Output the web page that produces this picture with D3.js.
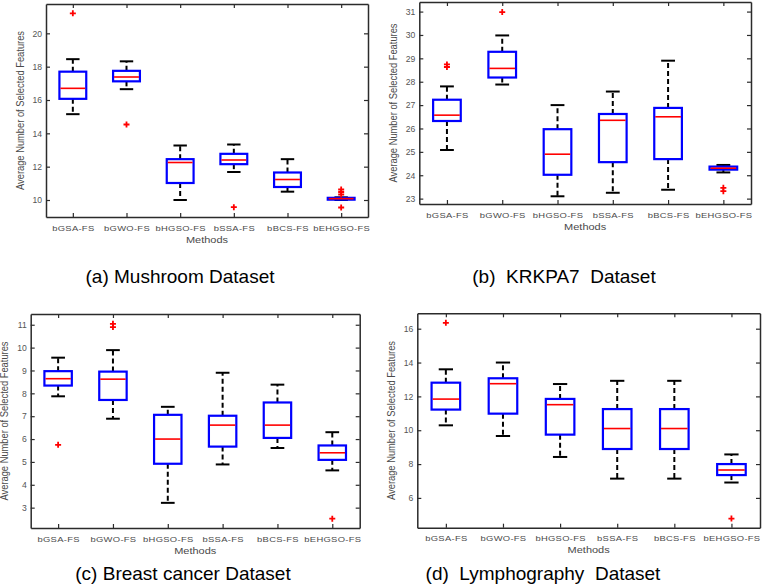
<!DOCTYPE html>
<html>
<head>
<meta charset="utf-8">
<script src="https://cdn.jsdelivr.net/npm/d3@7"></script>
<style>
  html, body { margin: 0; padding: 0; background: #fff; }
  svg { display: block; font-family: "Liberation Sans", Arial, Helvetica, sans-serif; }
</style>
</head>
<body>
<svg id="chart" width="762" height="584"></svg>
<script>
// ---------- DATA ----------
const categories = ["bGSA-FS", "bGWO-FS", "bHGSO-FS", "bSSA-FS", "bBCS-FS", "bEHGSO-FS"];

// each entry: [lower whisker, Q1, median, Q3, upper whisker]
const mushroomStats = [
  [15.15, 16.07, 16.7, 17.7, 18.45],
  [16.65, 17.12, 17.38, 17.75, 18.32],
  [10.0, 11.02, 12.25, 12.45, 13.27],
  [11.68, 12.15, 12.4, 12.77, 13.33],
  [10.5, 10.78, 11.23, 11.65, 12.45],
  [10.0, 10.02, 10.08, 10.13, 10.16]
];
const mushroomOutliers = [[21.2], [14.53], [], [9.57], [], [10.63, 10.48, 10.33, 9.55]];

const krkpa7Stats = [
  [25.08, 26.32, 26.57, 27.23, 27.8],
  [27.88, 28.18, 28.57, 29.28, 29.98],
  [23.1, 24.02, 24.9, 25.97, 27.0],
  [23.25, 24.56, 26.35, 26.62, 27.58],
  [23.38, 24.69, 26.5, 26.88, 28.9],
  [24.12, 24.24, 24.3, 24.37, 24.44]
];
const krkpa7Outliers = [[28.74, 28.63], [30.98], [], [], [], [23.46, 23.32]];

const breastStats = [
  [7.87, 8.34, 8.64, 8.97, 9.56],
  [6.89, 7.71, 8.62, 8.95, 9.89],
  [3.21, 4.92, 6.0, 7.06, 7.41],
  [4.89, 5.67, 6.61, 7.02, 8.9],
  [5.61, 6.05, 6.61, 7.6, 8.38],
  [4.63, 5.09, 5.4, 5.72, 6.3]
];
const breastOutliers = [[5.75], [11.04, 10.9], [], [], [], [2.52]];

const lymphStats = [
  [10.29, 11.22, 11.84, 12.81, 13.6],
  [9.66, 10.98, 12.75, 13.07, 14.0],
  [8.42, 9.74, 11.51, 11.85, 12.73],
  [7.14, 8.89, 10.1, 11.25, 12.92],
  [7.14, 8.89, 10.1, 11.25, 12.92],
  [6.91, 7.35, 7.65, 8.0, 8.57]
];
const lymphOutliers = [[16.35], [], [], [], [], [4.78]];

const mushroomTicks = [10, 12, 14, 16, 18, 20];
const krkpa7Ticks = [23, 24, 25, 26, 27, 28, 29, 30, 31];
const breastTicks = [3, 4, 5, 6, 7, 8, 9, 10, 11];
const lymphTicks = [6, 8, 10, 12, 14, 16];

const mushroomDomain = [8.98, 21.76];
const krkpa7Domain = [22.77, 31.41];
const breastDomain = [2.11, 11.47];
const lymphDomain = [4.24, 16.91];

const titles = ["(a) Mushroom Dataset", "(b)  KRKPA7  Dataset", "(c) Breast cancer Dataset", "(d)  Lymphography  Dataset"];
const xLabel = "Methods";
const yLabel = "Average Number of Selected Features";

// ---------- LAYOUT ----------
const panels = [
  { stats: mushroomStats, outliers: mushroomOutliers, ticks: mushroomTicks, domain: mushroomDomain, title: titles[0],
    left: 46, right: 368, top: 4, bottom: 217, titleX: 180, titleY: 283 },
  { stats: krkpa7Stats, outliers: krkpa7Outliers, ticks: krkpa7Ticks, domain: krkpa7Domain, title: titles[1],
    left: 419.3, right: 751, top: 2, bottom: 204, titleX: 564, titleY: 283 },
  { stats: breastStats, outliers: breastOutliers, ticks: breastTicks, domain: breastDomain, title: titles[2],
    left: 30.7, right: 359.7, top: 314, bottom: 528, titleX: 183, titleY: 579.5 },
  { stats: lymphStats, outliers: lymphOutliers, ticks: lymphTicks, domain: lymphDomain, title: titles[3],
    left: 417.3, right: 760, top: 313.3, bottom: 527.7, titleX: 543, titleY: 579.5 }
];

const svg = d3.select("#chart");
const axisColor = "#2b2b2b";
const labelColor = "#4a4a4a";

function drawPanel(p) {
  const g = svg.append("g");
  const x = d3.scalePoint().domain(categories).range([p.left, p.right]).padding(0.5);
  const y = d3.scaleLinear().domain(p.domain).range([p.bottom, p.top]);
  const bw = x.step() * 0.5;

  const styleAxis = sel => {
    sel.selectAll(".domain").attr("stroke", axisColor).attr("stroke-width", 1.5);
    sel.selectAll(".tick line").attr("stroke", axisColor).attr("stroke-width", 1.2);
  };
  const gl = g.append("g").attr("transform", `translate(${p.left},0)`)
    .call(d3.axisLeft(y).tickValues(p.ticks).tickSizeInner(-4).tickSizeOuter(0).tickPadding(4));
  styleAxis(gl);
  gl.selectAll(".tick text").attr("font-size", 8.6).attr("fill", "#555")
    .attr("font-family", "Liberation Sans, Arial, sans-serif");

  const gr = g.append("g").attr("transform", `translate(${p.right},0)`)
    .call(d3.axisRight(y).tickValues(p.ticks).tickSizeInner(-4).tickSizeOuter(0).tickFormat(""));
  styleAxis(gr);

  const gb = g.append("g").attr("transform", `translate(0,${p.bottom})`)
    .call(d3.axisBottom(x).tickSizeInner(-4).tickSizeOuter(0).tickPadding(0));
  styleAxis(gb);
  gb.selectAll(".tick text")
    .attr("font-size", 9.4).attr("fill", labelColor).attr("letter-spacing", 0.3)
    .attr("font-family", "Liberation Sans, Arial, sans-serif")
    .attr("dy", null).attr("y", 0)
    .attr("transform", "translate(0,13.5) scale(1,0.8)");

  const gt = g.append("g").attr("transform", `translate(0,${p.top})`)
    .call(d3.axisTop(x).tickSizeInner(-4).tickSizeOuter(0).tickFormat(""));
  styleAxis(gt);

  const cx = (p.left + p.right) / 2, cy = (p.top + p.bottom) / 2;
  g.append("text").text(xLabel)
    .attr("text-anchor", "middle").attr("fill", labelColor).attr("font-size", 11)
    .attr("transform", `translate(${cx},${p.bottom + 25.5}) scale(1,0.85)`);
  g.append("text").text(yLabel)
    .attr("text-anchor", "middle").attr("fill", labelColor).attr("font-size", 11)
    .attr("transform", `translate(${p.left - 22.5},${cy}) rotate(-90) scale(0.85,1)`);

  const boxes = g.selectAll(".bx").data(p.stats).join("g").attr("class", "bx")
    .attr("transform", (d, i) => `translate(${x(categories[i])},0)`);

  boxes.append("line").attr("x1", 0).attr("x2", 0)
    .attr("y1", d => y(d[3])).attr("y2", d => y(d[4]))
    .attr("stroke", "#000").attr("stroke-width", 2).attr("stroke-dasharray", "5,3");
  boxes.append("line").attr("x1", 0).attr("x2", 0)
    .attr("y1", d => y(d[1])).attr("y2", d => y(d[0]))
    .attr("stroke", "#000").attr("stroke-width", 2).attr("stroke-dasharray", "5,3");
  boxes.append("line").attr("x1", -bw / 4).attr("x2", bw / 4)
    .attr("y1", d => y(d[4])).attr("y2", d => y(d[4]))
    .attr("stroke", "#000").attr("stroke-width", 2);
  boxes.append("line").attr("x1", -bw / 4).attr("x2", bw / 4)
    .attr("y1", d => y(d[0])).attr("y2", d => y(d[0]))
    .attr("stroke", "#000").attr("stroke-width", 2);
  boxes.append("rect").attr("x", -bw / 2).attr("width", bw)
    .attr("y", d => y(d[3])).attr("height", d => Math.max(0.5, y(d[1]) - y(d[3])))
    .attr("fill", "#fff").attr("stroke", "#0000ff").attr("stroke-width", 2.2);
  boxes.append("line").attr("x1", -bw / 2 + 1).attr("x2", bw / 2 - 1)
    .attr("y1", d => y(d[2])).attr("y2", d => y(d[2]))
    .attr("stroke", "#ff0000").attr("stroke-width", 1.6);

  p.outliers.forEach((arr, i) => {
    arr.forEach(v => {
      const ox = x(categories[i]), oy = y(v);
      g.append("path")
        .attr("d", `M${ox - 3},${oy}H${ox + 3}M${ox},${oy - 3}V${oy + 3}`)
        .attr("stroke", "#ff0000").attr("stroke-width", 1.8).attr("fill", "none");
    });
  });

  g.append("text").text(p.title)
    .attr("x", p.titleX).attr("y", p.titleY)
    .attr("text-anchor", "middle").attr("font-size", 19).attr("fill", "#000")
    .style("white-space", "pre");
}

panels.forEach(drawPanel);
</script>
</body>
</html>
